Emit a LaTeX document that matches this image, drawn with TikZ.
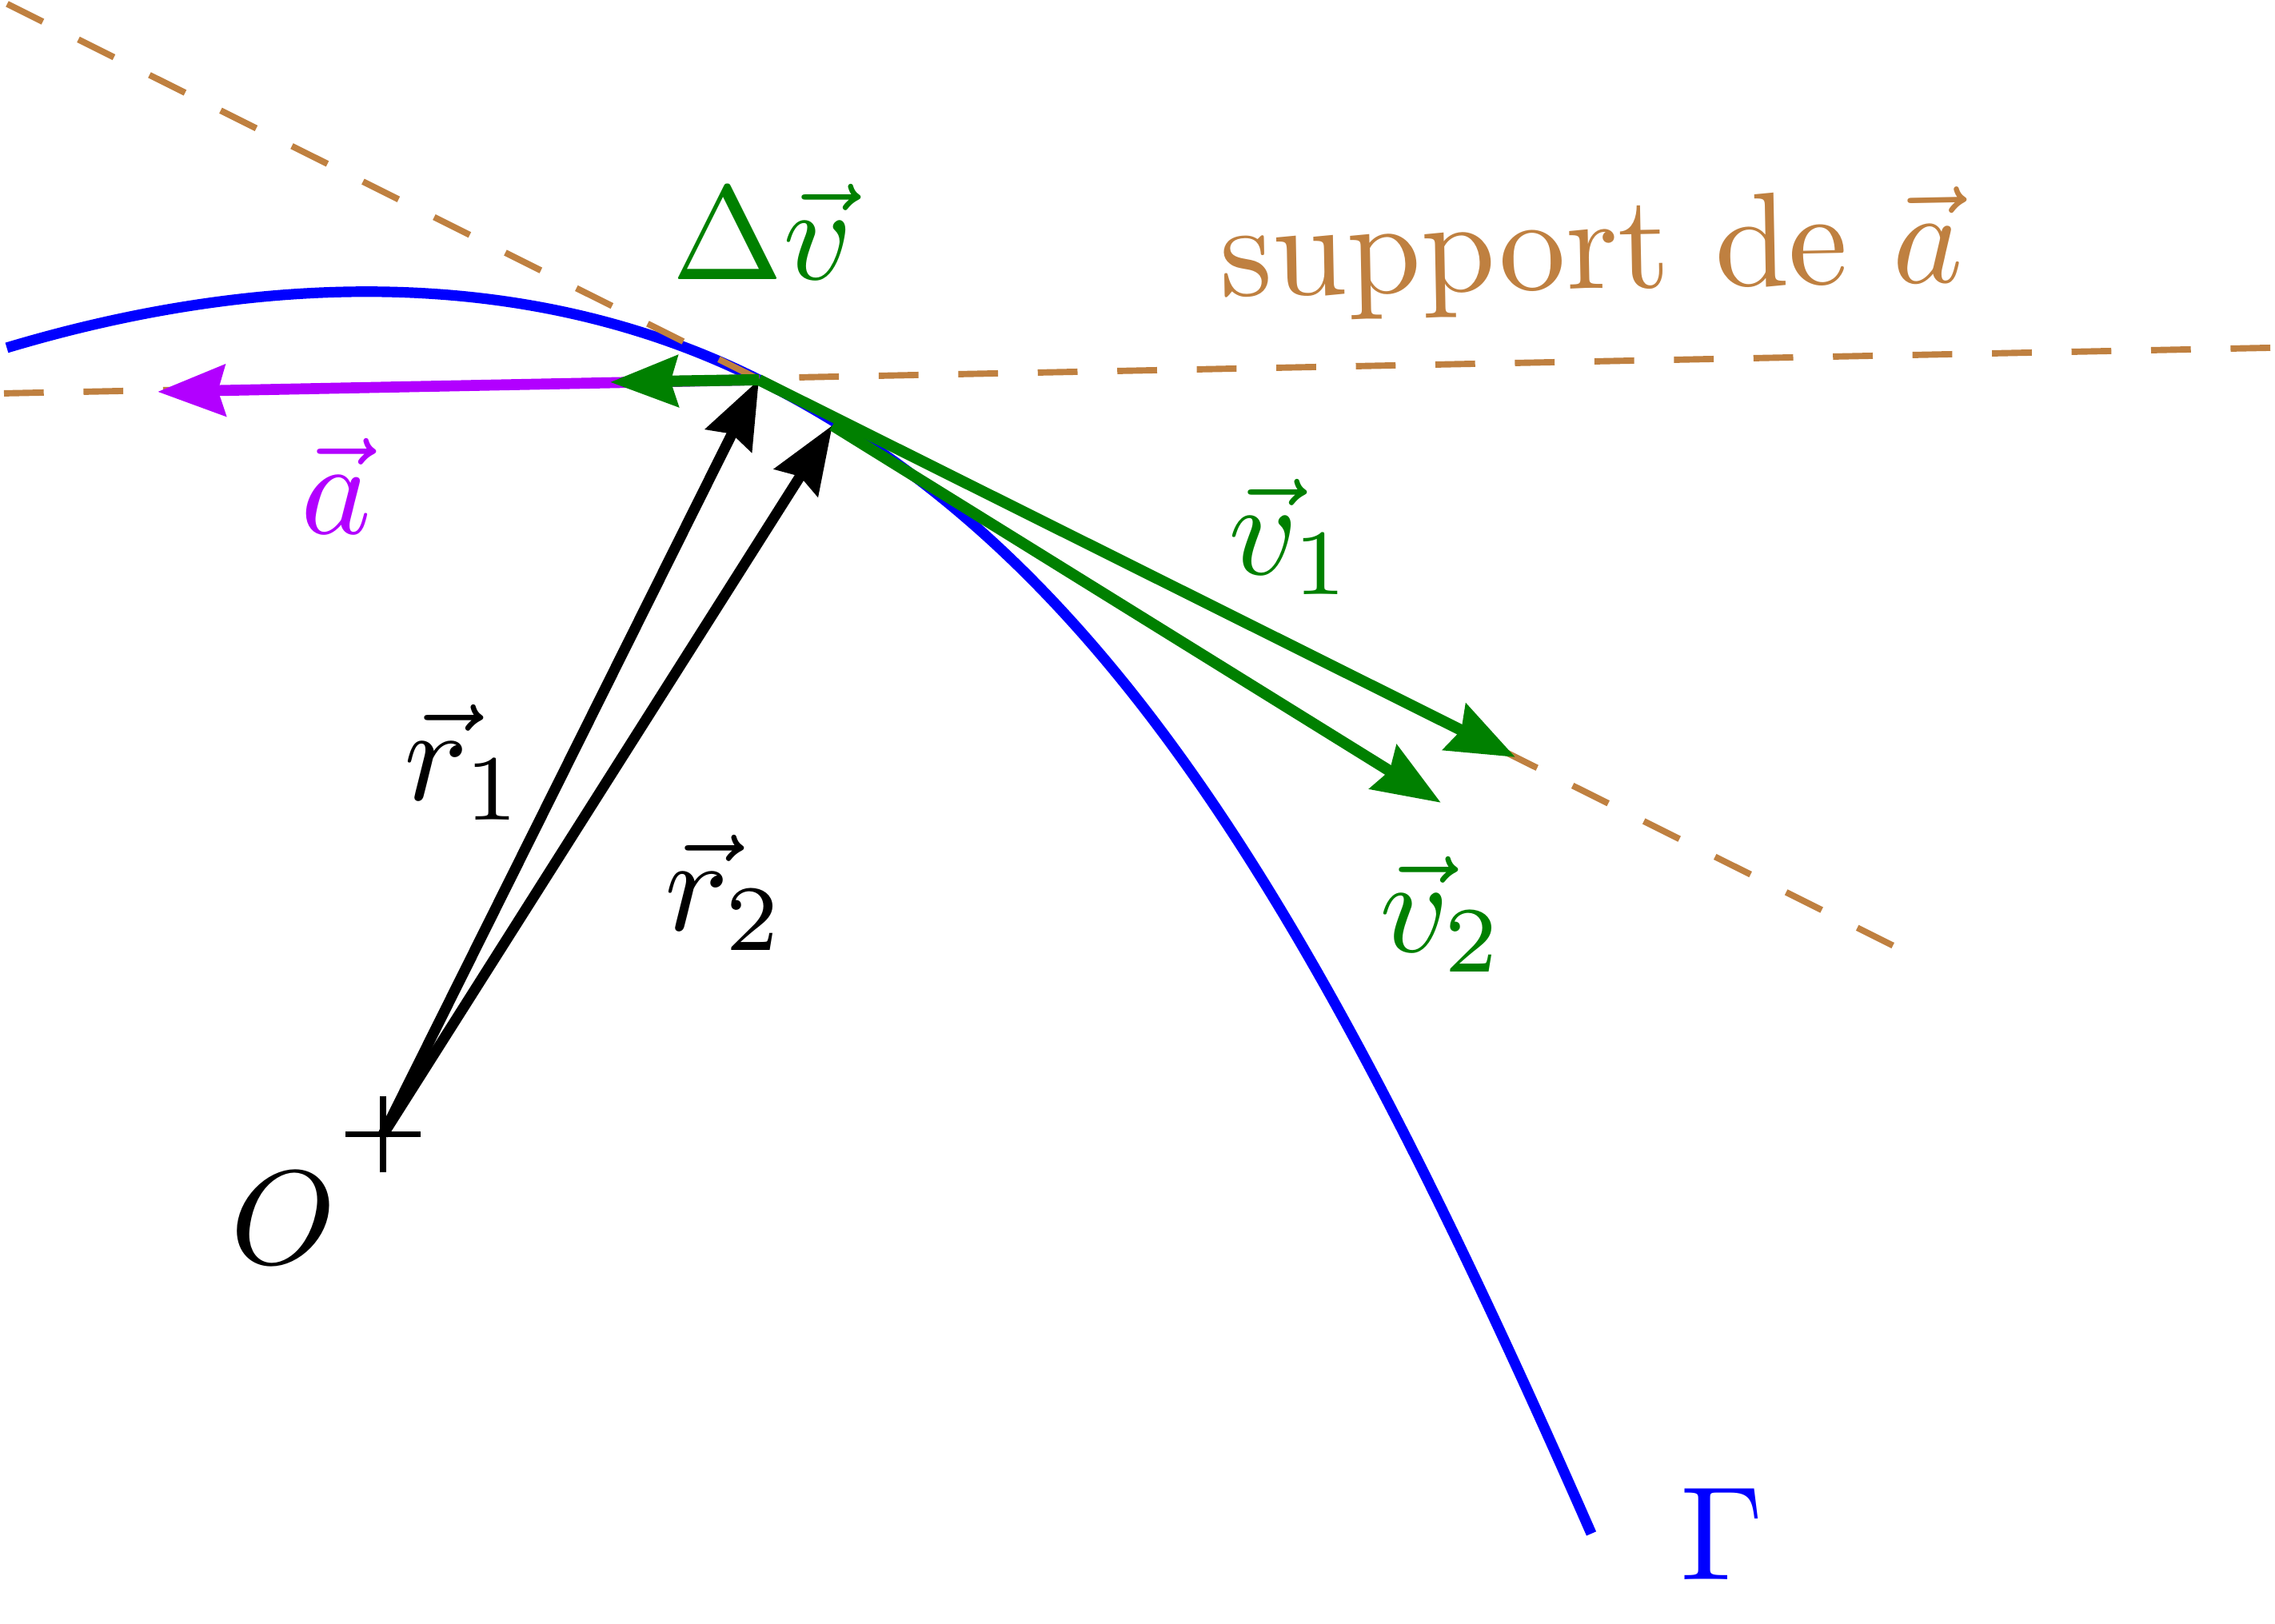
\documentclass[tikz,border=0pt]{standalone}
\usepackage{amsmath}
\usetikzlibrary{arrows.meta}
\definecolor{brun}{RGB}{191,128,64}
\definecolor{mauve}{RGB}{178,0,255}
\definecolor{vert}{RGB}{0,128,0}

\begin{document}
\begin{tikzpicture}[every node/.style={inner sep=0pt, scale=.95},
    >={Stealth[length=4.8pt,width=3.6pt,inset=0.5pt]},
    vecteur/.style={->, line width=.75pt},
    support/.style={brun, line width=.45pt, dash pattern=on 2.83pt off 2.83pt}]
    \useasboundingbox (0,0) rectangle (5.69,4.062);
    % points
    \coordinate (O) at (0.958,1.224);
    \coordinate (p1) at (1.898,3.112);
    \coordinate (p2) at (2.082,2.998);
    \coordinate (v1) at (3.79,2.168);
    \coordinate (v2) at (3.604,2.054);
    \coordinate (dv) at (1.526,3.106);
    \coordinate (a) at (0.394,3.082);
    \coordinate (t1) at (0.018,4.052);
    \coordinate (t2) at (4.736,1.696);
    \coordinate (s1) at (0.01,3.078);
    \coordinate (s2) at (5.68,3.192);
    \coordinate (debut) at (0.017,3.192);
    \coordinate (fin) at (3.98,0.226);
    % trajectoire
    \draw[blue, line width=.75pt] (debut) .. controls (0.617,3.372) and (1.298,3.412) .. (p1)
        .. controls (2.748,2.687) and (3.28,1.822) .. (fin);
    \draw (4.308,0.226) node[blue] (gamma) {$\Gamma$};
    % supports
    \draw[support] (t1) -- (t2);
    \draw[support] (s1) -- (s2);
    \draw (3.981,3.426) node[brun, rotate=1.1] (supp) {support de $\vec{a}$};
    % vecteurs
    \draw[vecteur, mauve, line width=.78pt] (p1) -- (a);
    \draw (0.842,2.846) node[mauve] (la) {$\vec{a}$};
    \draw[line width=.4pt] (O) +(-2.7pt,0) -- +(2.7pt,0) (O) +(0,-2.7pt) -- +(0,2.7pt);
    \draw (0.708,1.014) node (lO) {$O$};
    \draw[vecteur] (O) -- (p1);
    \draw[vecteur] (O) -- (p2);
    \draw (1.162,2.156) node (lr1) {$\vec{r}_1$};
    \draw (1.814,1.83) node (lr2) {$\vec{r}_2$};
    \draw[vecteur, vert, line width=.8pt] (p1) -- (v1);
    \draw[vecteur, vert, line width=.8pt] (p2) -- (v2);
    \draw[vecteur, vert, line width=.8pt] (p1) -- (dv);
    \draw (3.229,2.72) node[vert] (lv1) {$\vec{v}_1$};
    \draw (3.607,1.776) node[vert] (lv2) {$\vec{v}_2$};
    \draw (1.906,3.482) node[vert] (ldv) {$\Delta\vec{v}$};
\end{tikzpicture}
\end{document}
